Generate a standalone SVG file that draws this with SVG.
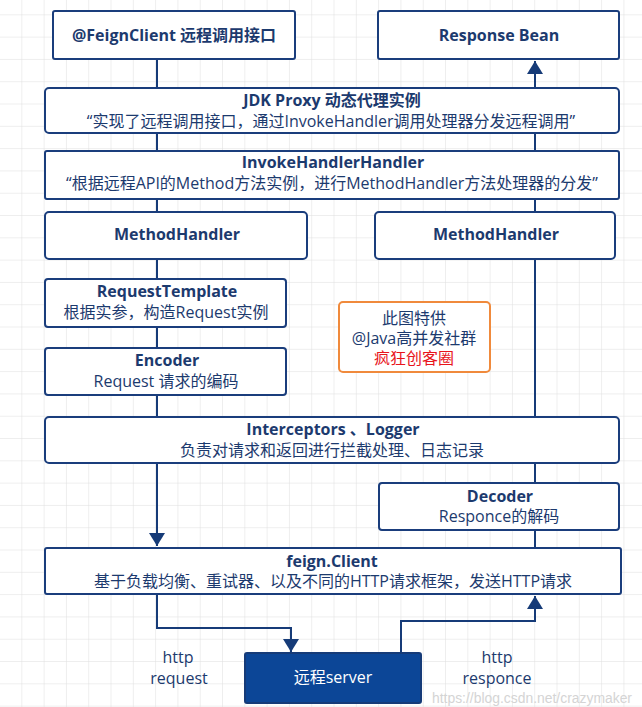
<svg xmlns="http://www.w3.org/2000/svg" width="642" height="707" viewBox="0 0 642 707">
<defs>
<pattern id="grid" x="0" y="-7" width="22.3" height="22.3" patternUnits="userSpaceOnUse">
<path d="M22.3 0 V22.3 M0 22.3 H22.3" fill="none" stroke="#dedede" stroke-width="1"/>
</pattern>
<marker id="arr" viewBox="0 0 13 16" refX="13" refY="8" markerWidth="13" markerHeight="16" markerUnits="userSpaceOnUse" orient="auto">
<path d="M0 0 L13 8 L0 16 Z" fill="#163b78"/>
</marker>
<style>
.box{fill:#fff;stroke:#1a3d7c;stroke-width:2}
.t{font-family:"Open Sans","Noto Sans CJK SC",sans-serif;font-size:16px;fill:#1c3a6e;text-anchor:middle}
.b{font-weight:bold}
.c{fill:none;stroke:#163b78;stroke-width:2}
</style>
</defs>
<rect width="642" height="707" fill="#fff"/>
<rect width="642" height="707" fill="url(#grid)"/>
<g id="connectors">
<path class="c" d="M157 59 V88"/>
<path class="c" d="M535 88 V61" marker-end="url(#arr)"/>
<path class="c" d="M157 133 V151"/>
<path class="c" d="M535 133 V151"/>
<path class="c" d="M157 199 V212"/>
<path class="c" d="M535 199 V212"/>
<path class="c" d="M157 259 V279"/>
<path class="c" d="M535 259 V417"/>
<path class="c" d="M157 327 V348"/>
<path class="c" d="M157 395 V417"/>
<path class="c" d="M157 463 V546" marker-end="url(#arr)"/>
<path class="c" d="M535 463 V483"/>
<path class="c" d="M535 530 V548"/>
<path class="c" d="M157 594 V628 H291 V652" marker-end="url(#arr)"/>
<path class="c" d="M401 653 V621 H535 V596" marker-end="url(#arr)"/>
</g>
<g id="feignclient">
<rect class="box" x="53" y="11" width="242" height="48" rx="2"/>
<text class="t b" x="174" y="41">@FeignClient 远程调用接口</text>
</g>
<g id="responsebean">
<rect class="box" x="378" y="11" width="241" height="48" rx="2"/>
<text class="t b" x="499" y="41">Response Bean</text>
</g>
<g id="jdkproxy">
<rect class="box" x="45" y="88" width="574" height="45" rx="4"/>
<text class="t b" x="332" y="106">JDK Proxy 动态代理实例</text>
<text class="t" x="331" y="127">“实现了远程调用接口，通过InvokeHandler调用处理器分发远程调用”</text>
</g>
<g id="invokehandler">
<rect class="box" x="45" y="151" width="574" height="48" rx="2"/>
<text class="t b" x="333" y="168">InvokeHandlerHandler</text>
<text class="t" x="332" y="189">“根据远程API的Method方法实例，进行MethodHandler方法处理器的分发”</text>
</g>
<g id="methodhandler-left">
<rect class="box" x="45" y="212" width="262" height="47" rx="4"/>
<text class="t b" x="177" y="240">MethodHandler</text>
</g>
<g id="methodhandler-right">
<rect class="box" x="375" y="212" width="240" height="47" rx="4"/>
<text class="t b" x="496" y="240">MethodHandler</text>
</g>
<g id="requesttemplate">
<rect class="box" x="45" y="279" width="241" height="48" rx="3"/>
<text class="t b" x="167" y="297">RequestTemplate</text>
<text class="t" x="166" y="318">根据实参，构造Request实例</text>
</g>
<g id="encoder">
<rect class="box" x="45" y="348" width="241" height="47" rx="3"/>
<text class="t b" x="167" y="366">Encoder</text>
<text class="t" x="166" y="387">Request 请求的编码</text>
</g>
<g id="notice">
<rect x="339" y="302" width="151" height="70" rx="4" fill="#fff" stroke="#f08a3c" stroke-width="2"/>
<text class="t" x="414" y="324">此图特供</text>
<text class="t" x="414" y="344">@Java高并发社群</text>
<text class="t" x="414" y="364" style="fill:#e8141c">疯狂创客圈</text>
</g>
<g id="interceptors">
<rect class="box" x="45" y="417" width="574" height="46" rx="4"/>
<text class="t b" x="333" y="435">Interceptors 、Logger</text>
<text class="t" x="332" y="456">负责对请求和返回进行拦截处理、日志记录</text>
</g>
<g id="decoder">
<rect class="box" x="379" y="483" width="240" height="47" rx="3"/>
<text class="t b" x="500" y="502">Decoder</text>
<text class="t" x="499" y="522">Responce的解码</text>
</g>
<g id="feign-client">
<rect class="box" x="45" y="548" width="576" height="46" rx="2"/>
<text class="t b" x="332" y="567">feign.Client</text>
<text class="t" x="333" y="587">基于负载均衡、重试器、以及不同的HTTP请求框架，发送HTTP请求</text>
</g>
<g id="server">
<rect x="245" y="653" width="176" height="50" rx="2" fill="#0c4697" stroke="#163b78" stroke-width="2"/>
<text class="t" x="333" y="683" style="fill:#fff">远程server</text>
</g>
<g id="labels">
<text class="t" x="178" y="663">http</text>
<text class="t" x="179" y="684">request</text>
<text class="t" x="497" y="663">http</text>
<text class="t" x="497" y="684">responce</text>
</g>
<text x="432" y="703" textLength="200" lengthAdjust="spacingAndGlyphs" style="font-family:'Liberation Sans',sans-serif;font-size:14px;fill:#d4d4d4">https://blog.csdn.net/crazymaker</text>
</svg>
